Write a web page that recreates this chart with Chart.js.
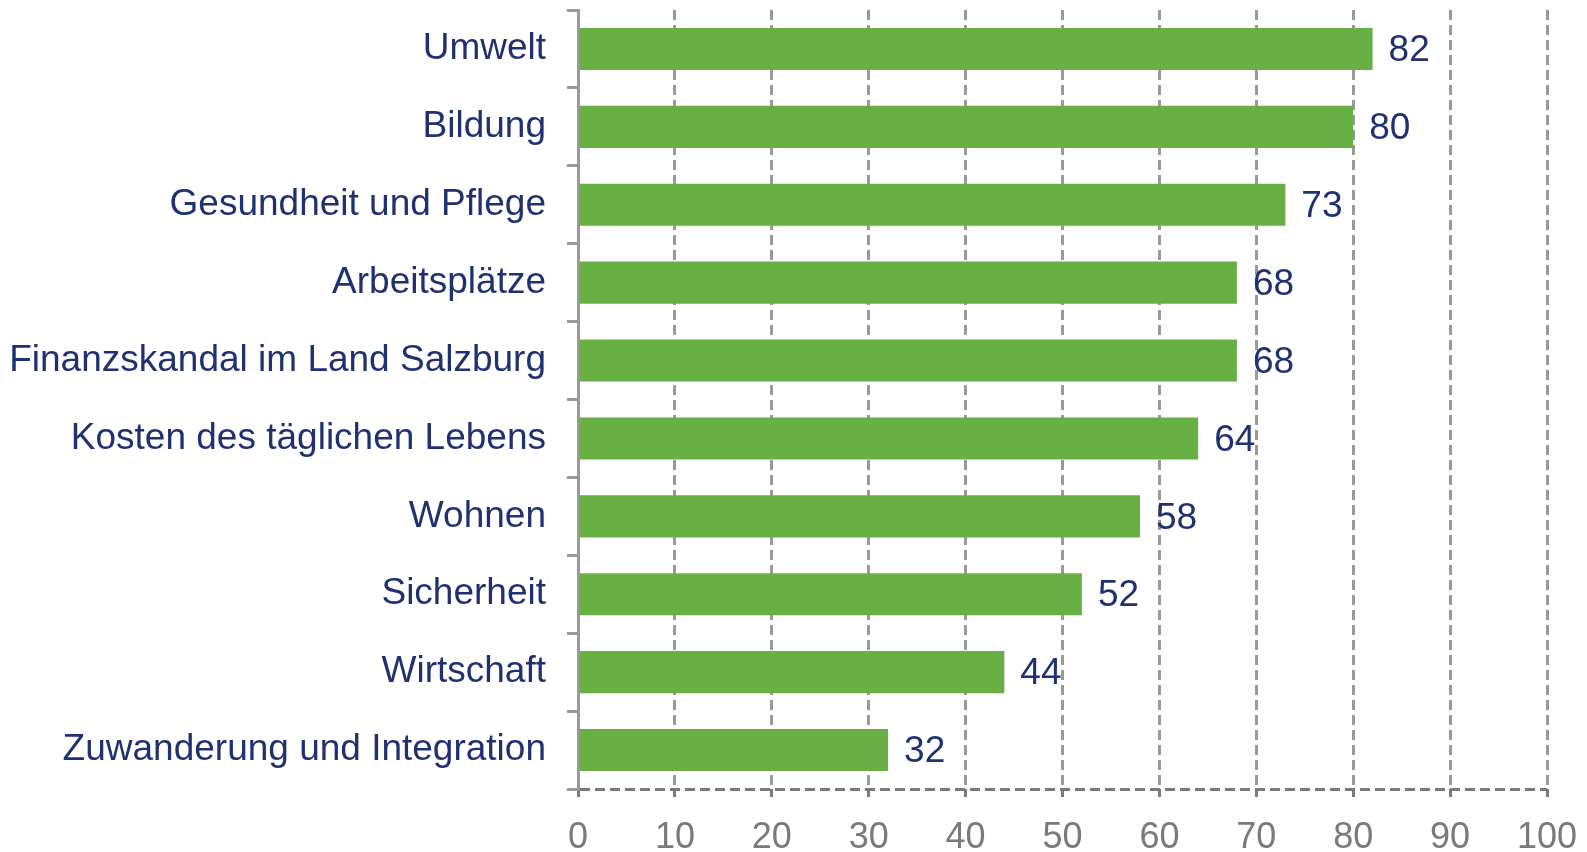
<!DOCTYPE html>
<html>
<head>
<meta charset="utf-8">
<script src="https://cdn.jsdelivr.net/npm/chart.js@4/dist/chart.umd.min.js"></script>
<style>
  html, body { margin: 0; padding: 0; background: #fff; }
  #wrap { width: 1587px; height: 852px; }
</style>
</head>
<body>
<div id="wrap"><canvas id="themenChart"></canvas></div>
<script>
// Daten
const categories = [
    'Umwelt',
    'Bildung',
    'Gesundheit und Pflege',
    'Arbeitsplätze',
    'Finanzskandal im Land Salzburg',
    'Kosten des täglichen Lebens',
    'Wohnen',
    'Sicherheit',
    'Wirtschaft',
    'Zuwanderung und Integration'
];
const values = [82, 80, 73, 68, 68, 64, 58, 52, 44, 32];
const xTicks = [0, 10, 20, 30, 40, 50, 60, 70, 80, 90, 100];

const navy = '#1f3170';
const green = '#69b044';
const gridGray = '#9a9a9a';
const axisGray = '#7a7a7a';

Chart.defaults.font.family = '"Liberation Sans", Arial, sans-serif';

// Werte rechts neben den Balken
const valueLabels = {
    id: 'valueLabels',
    afterDatasetsDraw(chart) {
        const ctx = chart.ctx;
        const meta = chart.getDatasetMeta(0);
        ctx.save();
        ctx.font = '37px "Liberation Sans", Arial, sans-serif';
        ctx.fillStyle = navy;
        ctx.textAlign = 'left';
        ctx.textBaseline = 'middle';
        meta.data.forEach((bar, i) => {
            ctx.fillText(String(values[i]), bar.x + 16, bar.y + 2);
        });
        ctx.restore();
    }
};

const ctx = document.getElementById('themenChart').getContext('2d');
const themenChart = new Chart(ctx, {
    type: 'bar',
    data: {
        labels: categories,
        datasets: [{
            data: values,
            backgroundColor: green,
            borderWidth: 0,
            barPercentage: 0.54,
            categoryPercentage: 1
        }]
    },
    options: {
        indexAxis: 'y',
        responsive: true,
        maintainAspectRatio: false,
        animation: false,
        layout: {
            padding: { top: 10, right: 40, left: 0, bottom: 0 }
        },
        plugins: {
            legend: { display: false },
            tooltip: { enabled: false }
        },
        scales: {
            x: {
                min: 0,
                max: 100,
                afterBuildTicks: (scale) => {
                    scale.ticks = xTicks.map(v => ({ value: v }));
                },
                afterFit: (scale) => {
                    scale.height = 63;
                    scale.paddingLeft = 0;
                    scale.paddingRight = 0;
                },
                grid: {
                    color: (c) => c.index === 0 ? 'rgba(0,0,0,0)' : gridGray,
                    lineWidth: 3,
                    drawTicks: true,
                    tickLength: 8,
                    tickColor: axisGray,
                    tickWidth: 3
                },
                border: {
                    display: false,
                    dash: [10, 5]
                },
                ticks: {
                    color: axisGray,
                    padding: 19,
                    font: { size: 36 }
                }
            },
            y: {
                afterFit: (scale) => {
                    scale.width = 578;
                    scale.paddingTop = 0;
                    scale.paddingBottom = 0;
                },
                grid: {
                    offset: true,
                    drawOnChartArea: true,
                    color: (c) => c.type === 'tick' ? 'rgba(0,0,0,0)' : axisGray,
                    lineWidth: 3,
                    tickLength: 11,
                    tickColor: gridGray,
                    tickWidth: 3
                },
                border: {
                    display: true,
                    color: gridGray,
                    width: 3,
                    dash: [10, 5]
                },
                ticks: {
                    color: navy,
                    padding: 21,
                    font: { size: 37 }
                }
            }
        }
    },
    plugins: [valueLabels]
});
</script>
</body>
</html>
